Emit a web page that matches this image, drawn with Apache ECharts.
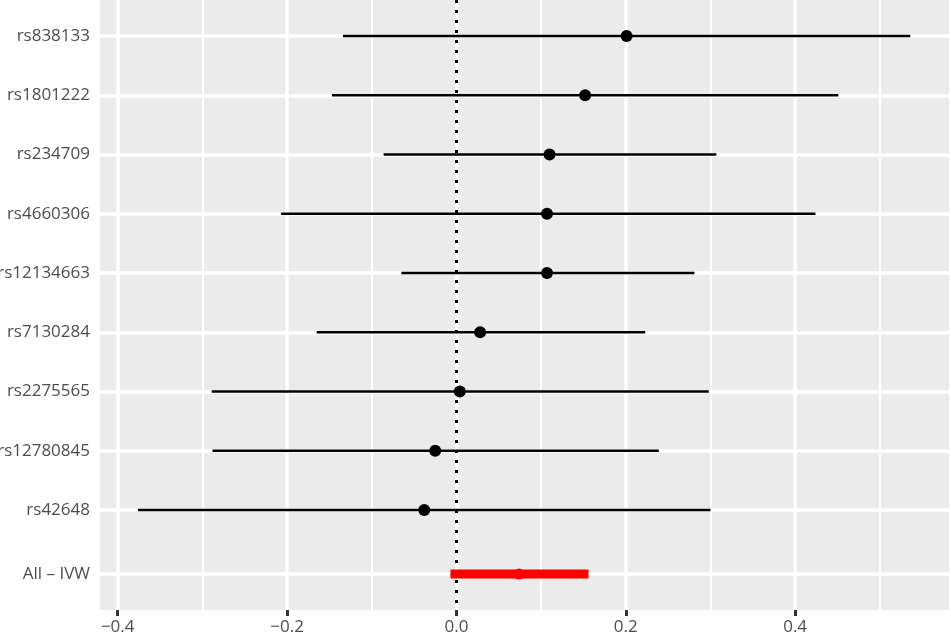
<!DOCTYPE html>
<html><head><meta charset="utf-8">
<script src="https://cdn.jsdelivr.net/npm/echarts@6/dist/echarts.min.js"></script>
<style>html,body{margin:0;padding:0;background:#fff}#c{width:951px;height:638px}</style>
</head><body><div id="c"></div>
<script>
// ---- data ----
const snps = ['rs838133','rs1801222','rs234709','rs4660306','rs12134663','rs7130284','rs2275565','rs12780845','rs42648'];
const beta  = [0.201, 0.152, 0.110, 0.107, 0.107, 0.028, 0.004, -0.025, -0.038];
const lower = [-0.134, -0.147, -0.086, -0.207, -0.065, -0.165, -0.289, -0.288, -0.376];
const upper = [0.536, 0.451, 0.307, 0.424, 0.281, 0.223, 0.298, 0.239, 0.300];
const allLabel = 'All \u2013 IVW';
const allBeta = [0.074];
const allLower = [-0.007];
const allUpper = [0.156];
const xTickValues = [-0.4, -0.2, 0.0, 0.2, 0.4];
const xMinorValues = [-0.3, -0.1, 0.1, 0.3, 0.5];

// ---- layout ----
const ALL_GAP = 1.08;
const rows = snps.map((_, i) => i + 1);
const allRow = snps.length + ALL_GAP;
const yVals = rows.concat([allRow]);
const yNames = snps.concat([allLabel]);
const FONT = 'Open Sans';
const XMIN = -0.4209, XMAX = 0.5817;

function yName(v) {
  let best = 0, d = 1e9;
  yVals.forEach((p, i) => { if (Math.abs(p - v) < d) { d = Math.abs(p - v); best = i; } });
  return yNames[best];
}

const chart = echarts.init(document.getElementById('c'), null, {renderer: 'canvas'});

function hline(width, color) {
  return function (params, api) {
    const p1 = api.coord([api.value(0), api.value(2)]);
    const p2 = api.coord([api.value(1), api.value(2)]);
    return {type: 'line', shape: {x1: p1[0], y1: p1[1], x2: p2[0], y2: p2[1]},
      style: {stroke: color, lineWidth: width, lineCap: 'butt'}};
  };
}

chart.setOption({
  animation: false,
  backgroundColor: '#ffffff',
  grid: {left: 100, right: 2, top: 0, bottom: 28, show: true, backgroundColor: '#EBEBEB', borderWidth: 0,
    containLabel: false, outerBoundsMode: 'none'},
  xAxis: [{
    type: 'value', min: XMIN, max: XMAX,
    axisLine: {show: false},
    axisTick: {show: true, length: 6, lineStyle: {color: '#333333', width: 3}, customValues: xTickValues},
    axisLabel: {customValues: xTickValues, color: '#4D4D4D', fontFamily: FONT, fontSize: 17, margin: 9,
      formatter: v => v.toFixed(1).replace('-', '\u2212')},
    splitLine: {show: true, lineStyle: {color: '#FFFFFF', width: 3.5}}
  }, {
    type: 'value', min: XMIN, max: XMAX, position: 'bottom',
    axisLine: {show: false},
    axisTick: {show: false, customValues: xMinorValues},
    axisLabel: {show: false, customValues: xMinorValues},
    splitLine: {show: true, lineStyle: {color: '#FFFFFF', width: 2}}
  }],
  yAxis: {
    type: 'value', inverse: true, min: 0.392, max: 10.687,
    axisLine: {show: false},
    axisTick: {show: true, length: 6, lineStyle: {color: '#333333', width: 1}, customValues: yVals},
    axisLabel: {customValues: yVals, color: '#4D4D4D', fontFamily: FONT, fontSize: 17, margin: 10, formatter: yName},
    splitLine: {show: true, lineStyle: {color: '#FFFFFF', width: 3.5}}
  },
  series: [
    {
      type: 'custom', renderItem: hline(2.5, '#000000'),
      data: snps.map((_, i) => [lower[i], upper[i], rows[i]]),
      encode: {x: [0, 1], y: 2}, z: 2, silent: true
    },
    {
      type: 'scatter', data: snps.map((_, i) => [beta[i], rows[i]]),
      symbol: 'circle', symbolSize: 12, itemStyle: {color: '#000000', opacity: 1}, z: 3, silent: true
    },
    {
      type: 'custom', renderItem: hline(9, '#FF0000'),
      data: allBeta.map((b, i) => [allLower[i], allUpper[i], allRow]),
      encode: {x: [0, 1], y: 2}, z: 4, silent: true
    },
    {
      type: 'scatter', data: allBeta.map(b => [b, allRow]),
      symbol: 'circle', symbolSize: 11, itemStyle: {color: '#FF0000', opacity: 1}, z: 5, silent: true,
      markLine: {
        silent: true, symbol: ['none', 'none'], label: {show: false}, z: 1,
        lineStyle: {color: '#000000', type: [3, 7], width: 3, opacity: 1},
        data: [{xAxis: 0}]
      }
    }
  ]
});
</script></body></html>
